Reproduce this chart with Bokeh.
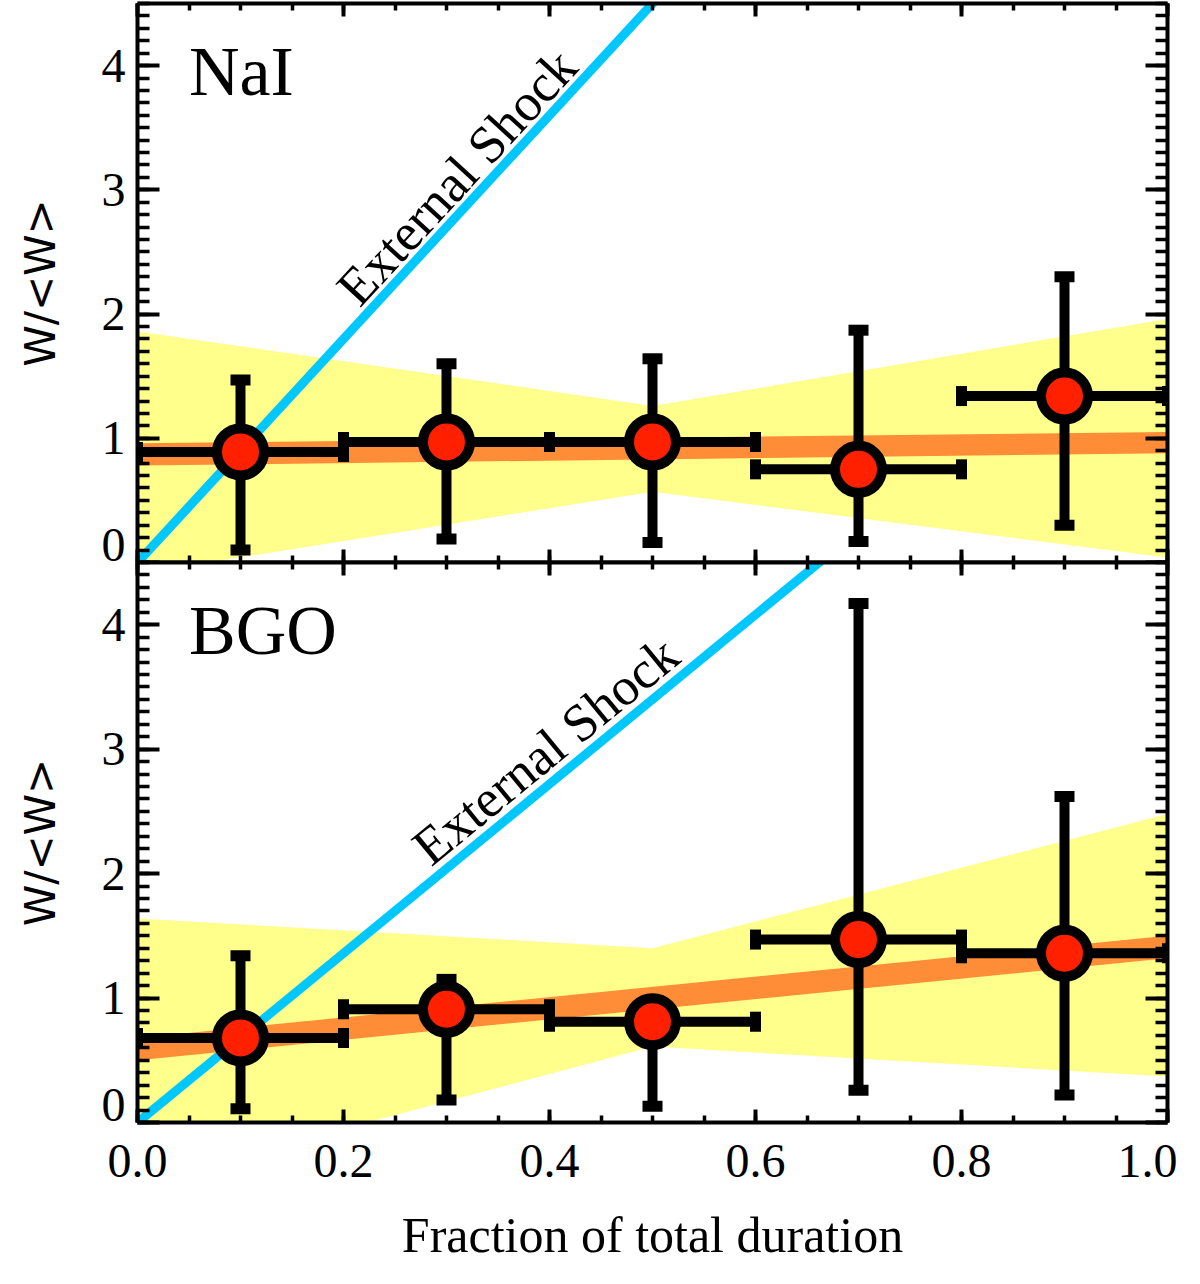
from bokeh.plotting import figure
from bokeh.layouts import column
from bokeh.models import (ColumnDataSource, Whisker, TeeHead, Label, LinearAxis,
                          SingleIntervalTicker, FixedTicker, Range1d,
                          PrintfTickFormatter)
from bokeh.embed import file_html
from bokeh.resources import INLINE

# time bins (fraction of total duration)
x_mid = [0.1, 0.3, 0.5, 0.7, 0.9]
x_lo = [0.0, 0.2, 0.4, 0.6, 0.8]
x_hi = [0.2, 0.4, 0.6, 0.8, 1.0]

# NaI: W/<W> with error range
nai_w = [0.89, 0.97, 0.97, 0.75, 1.34]
nai_lo = [0.10, 0.19, 0.16, 0.17, 0.30]
nai_hi = [1.47, 1.60, 1.64, 1.87, 2.30]

# BGO
bgo_w = [0.68, 0.91, 0.81, 1.47, 1.36]
bgo_lo = [0.11, 0.18, 0.13, 0.26, 0.22]
bgo_hi = [1.34, 1.15, 0.88, 4.17, 2.62]

# linear fit (orange band)
fit_x = [0.0, 1.0]
nai_fit_lo = [0.78, 0.88]
nai_fit_hi = [0.96, 1.05]
bgo_fit_lo = [0.50, 1.32]
bgo_fit_hi = [0.68, 1.50]

# confidence region of the fit (yellow)
conf_x = [0.0, 0.5, 1.0]
nai_conf_lo = [-0.09, 0.57, 0.04]
nai_conf_hi = [1.86, 1.26, 1.96]
bgo_conf_lo = [-0.49, 0.61, 0.37]
bgo_conf_hi = [1.64, 1.40, 2.48]

# external shock expectation
ext_x = [0.0, 1.0]
nai_ext = [0.0, 9.0]
bgo_ext = [0.0, 6.8]

# y tick labels (the "0" is drawn slightly above its tick, as in the original)
y_ticks = [0, 1, 2, 3, 4]
ZERO_LIFT = 0.137

SERIF = "Liberation Serif"
BLUE = "#00c8ff"
PAD = 14  # spare border between the two panels, overlapped away


def tick_axis(ax, xdim):
    # axis that only draws the line and the inward ticks
    ax.axis_line_width = 4
    ax.major_tick_out = 0
    ax.minor_tick_out = 0
    ax.major_tick_in = 13 if xdim else 22
    ax.minor_tick_in = 7 if xdim else 12
    ax.major_tick_line_width = 4
    ax.minor_tick_line_width = 3.5
    ax.major_label_text_font_size = "0px"
    ax.major_label_text_color = None
    ax.major_label_standoff = 0


def panel(name, w, lo, hi, fit_lo, fit_hi, conf_lo, conf_hi, ext,
          text_xy, text_angle, frame_h, top_border, bottom_border,
          bottom=False):
    p = figure(frame_width=1030, frame_height=frame_h,
               x_range=Range1d(0, 1), y_range=Range1d(0, 4.5),
               x_axis_location=None, y_axis_location=None,
               output_backend="svg", toolbar_location=None,
               min_border_left=137, min_border_right=10,
               min_border_top=top_border, min_border_bottom=bottom_border)
    p.grid.visible = False
    p.outline_line_color = None
    p.border_fill_color = None

    xt = SingleIntervalTicker(interval=0.2, num_minor_ticks=4)
    yt = SingleIntervalTicker(interval=1, num_minor_ticks=10)

    xb = LinearAxis(ticker=xt)
    tick_axis(xb, True)
    if bottom:
        xb.formatter = PrintfTickFormatter(format="%.1f")
        xb.major_label_text_font = SERIF
        xb.major_label_text_font_size = "48px"
        xb.major_label_text_color = "black"
        xb.major_label_standoff = 22
        xb.axis_label = "Fraction of total duration"
        xb.axis_label_text_font = SERIF
        xb.axis_label_text_font_size = "50px"
        xb.axis_label_text_font_style = "normal"
        xb.axis_label_text_color = "black"
        xb.axis_label_standoff = 27
    p.add_layout(xb, "below")
    xa = LinearAxis(ticker=xt)
    tick_axis(xa, True)
    p.add_layout(xa, "above")

    yl = LinearAxis(ticker=yt)
    tick_axis(yl, False)
    p.add_layout(yl, "left")
    # labels only
    lab_ticks = [t + ZERO_LIFT if t == 0 else t for t in y_ticks]
    ylab = LinearAxis(ticker=FixedTicker(ticks=lab_ticks, minor_ticks=[]),
                      formatter=PrintfTickFormatter(format="%.0f"))
    ylab.axis_line_color = None
    ylab.major_tick_line_color = None
    ylab.minor_tick_line_color = None
    ylab.major_tick_in = 0
    ylab.major_tick_out = 0
    ylab.major_label_text_font = SERIF
    ylab.major_label_text_font_size = "48px"
    ylab.major_label_text_color = "black"
    ylab.major_label_standoff = 12
    ylab.axis_label = "W/<W>"
    ylab.axis_label_text_font = "DejaVu Sans"
    ylab.axis_label_text_font_size = "42px"
    ylab.axis_label_text_font_style = "normal"
    ylab.axis_label_text_color = "black"
    ylab.axis_label_standoff = 34
    p.add_layout(ylab, "left")
    yr = LinearAxis(ticker=yt)
    tick_axis(yr, False)
    p.add_layout(yr, "right")

    p.varea(x=conf_x, y1=conf_lo, y2=conf_hi, fill_color="#ffff8c")
    p.varea(x=fit_x, y1=fit_lo, y2=fit_hi, fill_color="#ff8c37")
    p.line(ext_x, ext, line_color=BLUE, line_width=9)

    src = ColumnDataSource(dict(x=x_mid, w=w, lo=lo, hi=hi, xl=x_lo, xh=x_hi))
    for base, l, u, dim in (("x", "lo", "hi", "height"), ("w", "xl", "xh", "width")):
        p.add_layout(Whisker(source=src, base=base, lower=l, upper=u,
                             dimension=dim, line_width=10, level="annotation",
                             upper_head=TeeHead(size=20, line_width=11),
                             lower_head=TeeHead(size=20, line_width=11)))
    p.scatter("x", "w", source=src, size=47, fill_color="#ff2000",
              line_color="black", line_width=10, level="overlay")

    p.add_layout(Label(x=0.05, y=3.95, text=name, text_font=SERIF,
                       text_font_size="70px", text_color="black",
                       text_baseline="alphabetic"))
    p.add_layout(Label(x=text_xy[0], y=text_xy[1], text="External Shock",
                       angle=text_angle, angle_units="deg",
                       text_font=SERIF, text_font_size="53px",
                       text_color="black", text_baseline="alphabetic"))
    return p


top = panel("NaI", nai_w, nai_lo, nai_hi, nai_fit_lo, nai_fit_hi,
            nai_conf_lo, nai_conf_hi, nai_ext, (0.203, 2.14), 47.4,
            559, 3, PAD)
bot = panel("BGO", bgo_w, bgo_lo, bgo_hi, bgo_fit_lo, bgo_fit_hi,
            bgo_conf_lo, bgo_conf_hi, bgo_ext, (0.274, 2.16), 39.4,
            560, PAD, 0, bottom=True)
# pull the lower panel up so the two frames touch
bot.margin = (-2 * PAD, 0, 0, 0)

layout = column(top, bot, spacing=0)
open("out.html", "w").write(file_html(layout, INLINE))
